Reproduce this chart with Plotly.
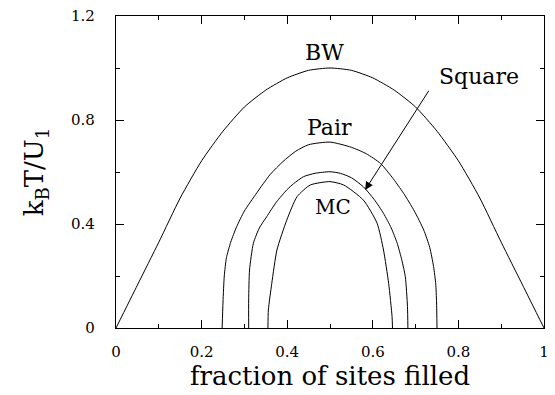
import plotly.graph_objects as go

# Bragg-Williams (BW) curve
bw_x = [0, 0.05, 0.1, 0.15, 0.2, 0.25, 0.3, 0.35, 0.4, 0.45, 0.5,
        0.55, 0.6, 0.65, 0.7, 0.75, 0.8, 0.85, 0.9, 0.95, 1.0]
bw_y = [0, 0.165, 0.33, 0.5, 0.643, 0.757, 0.85, 0.915, 0.962, 0.991, 1.0,
        0.991, 0.962, 0.915, 0.85, 0.757, 0.643, 0.5, 0.33, 0.165, 0]

# Pair approximation
pair_x = [0.248, 0.25, 0.253, 0.258, 0.268, 0.282, 0.30, 0.329, 0.36, 0.39, 0.42, 0.45, 0.5,
          0.55, 0.585, 0.618, 0.645, 0.672, 0.697, 0.719, 0.733, 0.742, 0.747, 0.749, 0.75]
pair_y = [0, 0.1, 0.2, 0.27, 0.33, 0.39, 0.45, 0.52, 0.59, 0.64, 0.68, 0.705, 0.715,
          0.695, 0.67, 0.633, 0.58, 0.518, 0.45, 0.377, 0.31, 0.236, 0.17, 0.1, 0]

# Square approximation
sq_x = [0.31, 0.31, 0.312, 0.321, 0.335, 0.352, 0.375, 0.399, 0.415, 0.438, 0.465, 0.5,
        0.524, 0.55, 0.578, 0.603, 0.625, 0.643, 0.657, 0.668, 0.676, 0.681, 0.682]
sq_y = [0, 0.108, 0.223, 0.326, 0.385, 0.428, 0.485, 0.531, 0.555, 0.582, 0.595, 0.601,
        0.595, 0.578, 0.543, 0.495, 0.441, 0.385, 0.326, 0.26, 0.197, 0.082, 0]

# Monte Carlo
mc_x = [0.355, 0.356, 0.364, 0.376, 0.399, 0.423, 0.454, 0.5,
        0.532, 0.578, 0.61, 0.625, 0.637, 0.645, 0.646]
mc_y = [0, 0.069, 0.172, 0.3, 0.415, 0.505, 0.55, 0.563,
        0.55, 0.492, 0.403, 0.3, 0.172, 0.044, 0]

x_ticks = [0, 0.2, 0.4, 0.6, 0.8, 1.0]
x_ticktext = ["0", "0.2", "0.4", "0.6", "0.8", "1"]
y_ticks = [0, 0.4, 0.8, 1.2]
y_ticktext = ["0", "0.4", "0.8", "1.2"]

FONT = "DejaVu Serif"

fig = go.Figure()
for name, xs, ys in [("BW", bw_x, bw_y), ("Pair", pair_x, pair_y),
                     ("Square", sq_x, sq_y), ("MC", mc_x, mc_y)]:
    fig.add_trace(go.Scatter(x=xs, y=ys, mode="lines", name=name,
                             line=dict(color="black", width=1, shape="spline", smoothing=0.6),
                             showlegend=False))

axis_common = dict(showline=True, linecolor="black", linewidth=1.2, mirror="ticks",
                   ticks="inside", tickcolor="black", tickwidth=1.2, ticklen=8,
                   showgrid=False, zeroline=False, automargin=False,
                   tickfont=dict(family=FONT, size=15, color="black"))

fig.update_xaxes(range=[0, 1], tickmode="linear", tick0=x_ticks[0],
                 dtick=x_ticks[1] - x_ticks[0], ticklabelstandoff=10,
                 minor=dict(dtick=0.1, tick0=0, ticklen=4, ticks="inside",
                            tickcolor="black", tickwidth=1.2),
                 title=dict(text="fraction of sites filled", standoff=6,
                            font=dict(family=FONT, size=26, color="black")),
                 **axis_common)
fig.update_yaxes(range=[0, 1.2], tickmode="linear", tick0=y_ticks[0],
                 dtick=y_ticks[1] - y_ticks[0], ticklabelstandoff=17,
                 minor=dict(dtick=0.2, tick0=0, ticklen=4, ticks="inside",
                            tickcolor="black", tickwidth=1.2),
                 title=dict(text="k<sub>B</sub>T/U<sub>1</sub>", standoff=19,
                            font=dict(family=FONT, size=26, color="black")),
                 **axis_common)

labels = [("BW", 0.487, 1.06, 22), ("Pair", 0.498, 0.773, 22),
          ("MC", 0.508, 0.467, 20), ("Square", 0.848, 0.969, 22)]
for txt, lx, ly, sz in labels:
    fig.add_annotation(x=lx, y=ly, text=txt, showarrow=False,
                       font=dict(family=FONT, size=sz, color="black"))

fig.add_annotation(x=0.582, y=0.531, ax=0.733, ay=0.918, axref="x", ayref="y",
                   text="", showarrow=True, arrowhead=2, arrowsize=1.6,
                   arrowwidth=1, arrowcolor="black", standoff=0)

fig.update_layout(width=555, height=395, margin=dict(l=116, r=11, t=16, b=67),
                  paper_bgcolor="white", plot_bgcolor="white",
                  font=dict(family=FONT, color="black"))

fig.write_html("out.html")
